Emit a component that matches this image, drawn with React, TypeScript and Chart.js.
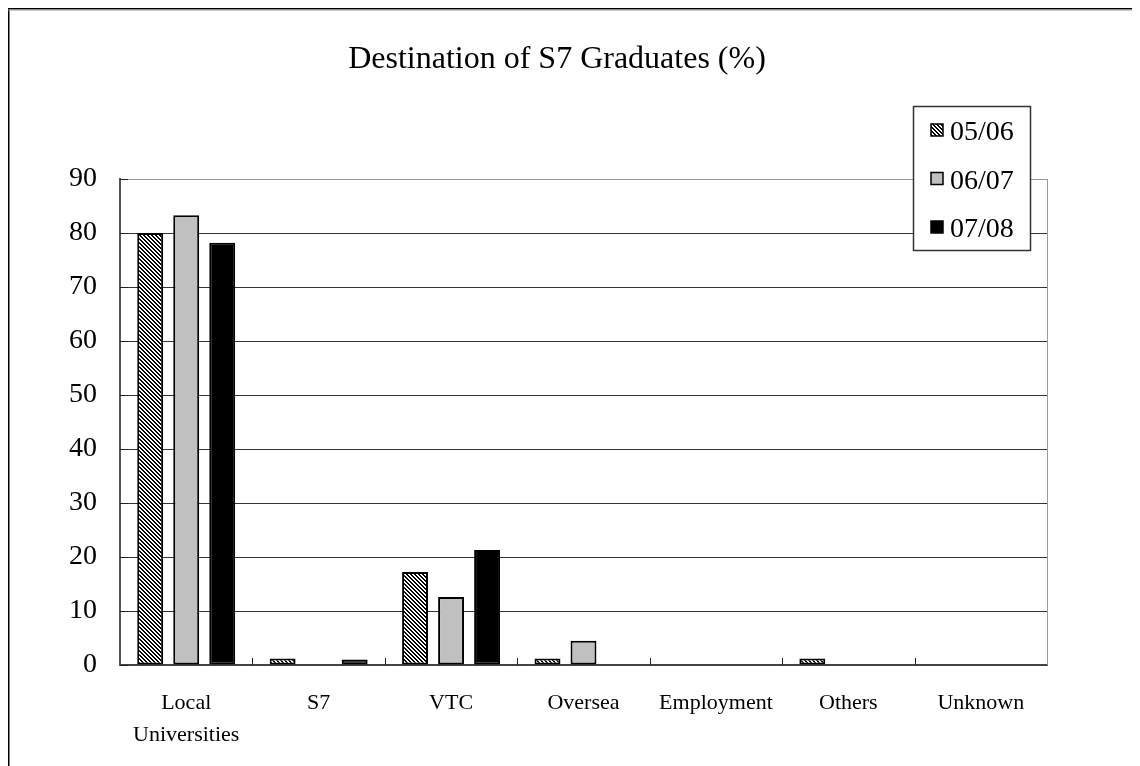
import React, { useEffect, useRef } from "react";
import { Chart, registerables } from "chart.js";

Chart.register(...registerables);

const TITLE = "Destination of S7 Graduates (%)";
const categories: (string | string[])[] = [
  ["Local", "Universities"],
  "S7",
  "VTC",
  "Oversea",
  "Employment",
  "Others",
  "Unknown",
];
const seriesLabels = ["05/06", "06/07", "07/08"];
const s0506 = [80, 1.2, 17.2, 1.2, 0, 1.2, 0];
const s0607 = [83.3, 0, 12.6, 4.5, 0, 0, 0];
const s0708 = [78.2, 1.0, 21.3, 0, 0, 0, 0];
const yMin = 0;
const yMax = 90;
const yStep = 10;

const FONT = "'Liberation Serif', 'Times New Roman', serif";

function makeHatch(): CanvasPattern | string {
  const c = document.createElement("canvas");
  c.width = 4;
  c.height = 4;
  const g = c.getContext("2d");
  if (!g) return "#666";
  g.fillStyle = "#fff";
  g.fillRect(0, 0, 4, 4);
  g.fillStyle = "#000";
  for (let y = 0; y < 4; y++) {
    for (let x = 0; x < 4; x++) {
      const d = (((x - y) % 4) + 4) % 4;
      if (d === 0 || d === 1) g.fillRect(x, y, 1, 1);
    }
  }
  const p = g.createPattern(c, "repeat");
  return p || "#666";
}

const framePlugin = {
  id: "frame",
  beforeDraw(chart: any) {
    const { ctx, width, height } = chart;
    ctx.save();
    ctx.fillStyle = "#fff";
    ctx.fillRect(0, 0, width, height);
    ctx.fillStyle = "#000";
    ctx.fillRect(0, 0, width, 1.5);
    ctx.fillRect(0, 0, 1.5, height);
    ctx.fillStyle = "#9a9a9a";
    ctx.fillRect(0, 1.5, width, 1);
    ctx.fillRect(width - 1, 0, 1, height);
    ctx.restore();
  },
  afterDatasetsDraw(chart: any) {
    const { ctx, chartArea } = chart;
    const xs = chart.scales.x;
    const ys = chart.scales.y;
    ctx.save();
    ctx.strokeStyle = "#999";
    ctx.lineWidth = 1;
    ctx.beginPath();
    ctx.moveTo(chartArea.right + 0.5, chartArea.top);
    ctx.lineTo(chartArea.right + 0.5, chartArea.bottom);
    ctx.stroke();
    ctx.strokeStyle = "#222";
    ctx.lineWidth = 1;
    const n = categories.length;
    for (let i = 0; i < n - 1; i++) {
      const px = Math.round((xs.getPixelForValue(i) + xs.getPixelForValue(i + 1)) / 2) + 0.5;
      ctx.beginPath();
      ctx.moveTo(px, chartArea.bottom);
      ctx.lineTo(px, chartArea.bottom - 7);
      ctx.stroke();
    }
    for (let v = yMin; v <= yMax; v += yStep) {
      const py = Math.round(ys.getPixelForValue(v)) + 0.5;
      ctx.beginPath();
      ctx.moveTo(chartArea.left, py);
      ctx.lineTo(chartArea.left + 8, py);
      ctx.stroke();
    }
    ctx.restore();
  },
  afterDraw(chart: any) {
    const { ctx } = chart;
    const box = { x: 905, y: 98, w: 117, h: 144 };
    ctx.save();
    ctx.fillStyle = "#fff";
    ctx.fillRect(box.x, box.y, box.w, box.h);
    ctx.strokeStyle = "#333";
    ctx.lineWidth = 1.5;
    ctx.strokeRect(box.x + 0.5, box.y + 0.5, box.w, box.h);
    ctx.font = `28px ${FONT}`;
    ctx.textBaseline = "middle";
    ctx.textAlign = "left";
    chart.data.datasets.forEach((ds: any, i: number) => {
      const cy = box.y + 27 + i * 48.5;
      ctx.fillStyle = ds.backgroundColor;
      ctx.fillRect(box.x + 18, cy - 9, 12, 12);
      ctx.strokeStyle = "#000";
      ctx.lineWidth = 1.5;
      ctx.strokeRect(box.x + 18, cy - 9, 12, 12);
      ctx.fillStyle = "#000";
      ctx.fillText(ds.label, box.x + 37, cy);
    });
    ctx.restore();
  },
};

export default function App() {
  const ref = useRef<HTMLCanvasElement | null>(null);
  useEffect(() => {
    document.documentElement.style.overflow = "hidden";
    const canvas = ref.current;
    if (!canvas) return;
    const hatch = makeHatch();
    const bw = (c: any) => (c.raw === 0 ? 0 : 2);
    const common = {
      borderColor: "#000",
      borderWidth: bw,
      borderSkipped: false,
      categoryPercentage: 0.816,
      barPercentage: 0.72,
    };
    const chart = new Chart(canvas, {
      type: "bar",
      data: {
        labels: categories,
        datasets: [
          { label: seriesLabels[0], data: s0506, backgroundColor: hatch as any, ...common },
          { label: seriesLabels[1], data: s0607, backgroundColor: "#c0c0c0", ...common },
          { label: seriesLabels[2], data: s0708, backgroundColor: "#000000", ...common },
        ],
      } as any,
      options: {
        animation: false,
        responsive: true,
        maintainAspectRatio: false,
        devicePixelRatio: 1,
        layout: { padding: { left: 59, right: 92, top: 0, bottom: 0 } },
        plugins: {
          legend: { display: false },
          tooltip: { enabled: false },
          title: {
            display: true,
            text: TITLE,
            color: "#000",
            font: { family: FONT, size: 32, weight: "normal" },
            padding: { top: 32, bottom: 100.6 },
          },
        },
        scales: {
          x: {
            grid: { display: false, drawTicks: false },
            border: { display: true, color: "#444", width: 2 },
            ticks: {
              color: "#000",
              font: { family: FONT, size: 22, lineHeight: 1.45 },
              padding: 22,
              maxRotation: 0,
              autoSkip: false,
            },
            afterFit: (s: any) => {
              s.height = 101;
            },
          },
          y: {
            min: yMin,
            max: yMax,
            ticks: {
              stepSize: yStep,
              color: "#000",
              font: { family: FONT, size: 28 },
              padding: 23,
            },
            grid: {
              drawTicks: false,
              color: (c: any) => (c.tick && c.tick.value === yMax ? "#999" : "#333"),
              lineWidth: 1,
            },
            border: { display: true, color: "#555", width: 2 },
            afterFit: (s: any) => {
              s.width = 53;
            },
          },
        },
      } as any,
      plugins: [framePlugin],
    });
    return () => chart.destroy();
  }, []);
  return (
    <div style={{ position: "relative", width: 1131, height: 758 }}>
      <canvas ref={ref} />
    </div>
  );
}
